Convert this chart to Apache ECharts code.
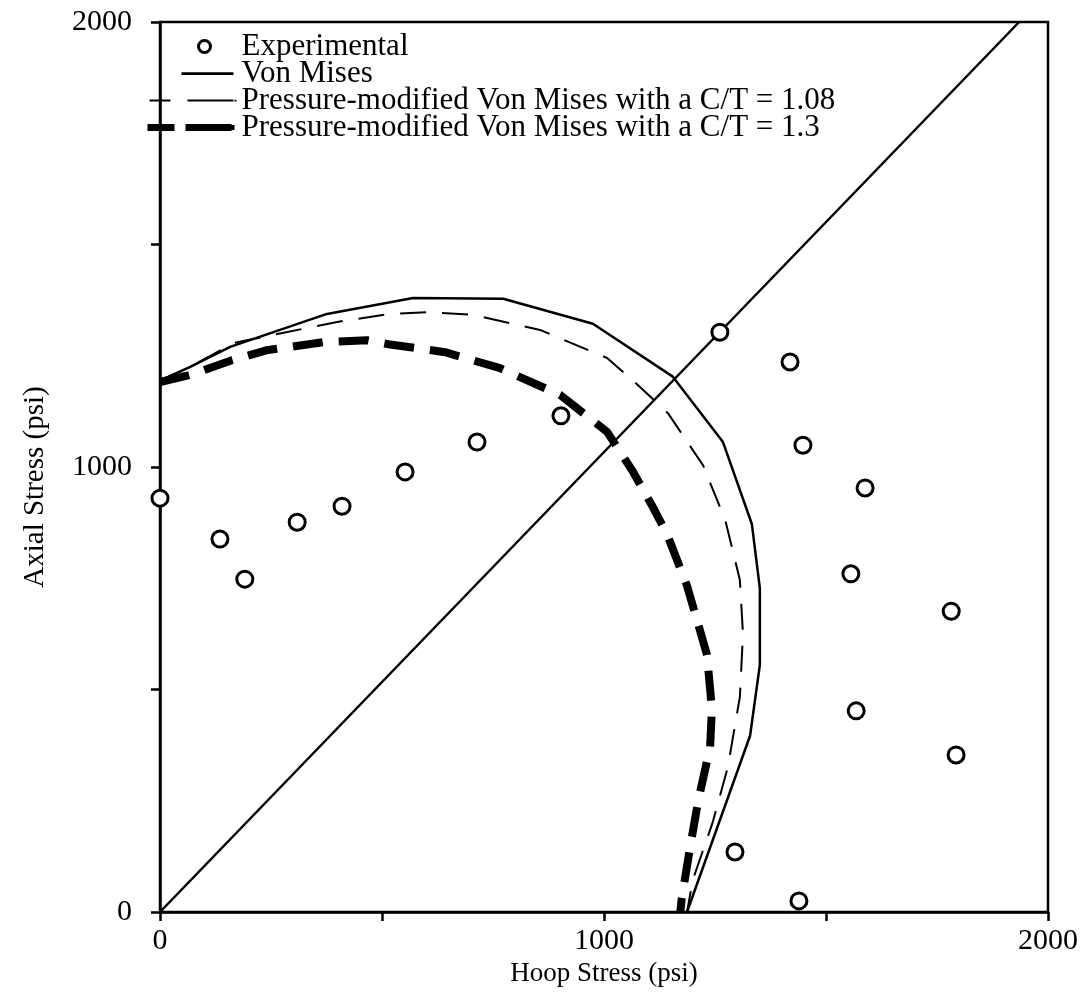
<!DOCTYPE html>
<html><head><meta charset="utf-8">
<script src="https://cdn.jsdelivr.net/npm/echarts@6/dist/echarts.min.js"></script>
<style>html,body{margin:0;padding:0;background:#fff}#c{width:1092px;height:1001px}</style>
</head><body><div id="c"></div>
<script>
var xTicks = [0, 1000, 2000];
var yTicks = [0, 1000, 2000];
var experimental = [[0,930],[135,838],[191,748],[309,876],[410,912],[552,989],[714,1056],[903,1115],[1261,1303],[1419,1236],[1448,1049],[1588,953],[1556,760],[1782,676],[1568,452],[1793,353],[1295,135],[1439,25]];
var vonMises = [[0,1194],[68,1225],[158,1270],[376,1344],[570,1380],[773,1378],[975,1322],[1155,1203],[1268,1056],[1333,872],[1351,728],[1351,555],[1329,396],[1187,0]];
var ct108 = [[0,1194],[68,1225],[167,1279],[270,1300],[399,1326],[518,1344],[601,1348],[705,1342],[856,1308],[1007,1245],[1081,1180],[1144,1121],[1223,1004],[1273,881],[1306,746],[1313,625],[1306,483],[1279,326],[1245,202],[1200,72],[1187,0]];
var ct13 = [[0,1191],[68,1207],[162,1240],[243,1263],[372,1281],[466,1285],[514,1276],[642,1258],[766,1222],[901,1162],[1007,1079],[1065,990],[1110,910],[1142,849],[1187,733],[1232,578],[1243,456],[1239,371],[1212,249],[1194,146],[1175,30],[1172,0]];
var diagonal = [[0,0],[1935,2000]];

var names = ['Experimental','Von Mises','Pressure-modified Von Mises with a C/T = 1.08','Pressure-modified Von Mises with a C/T = 1.3'];
var box = 'M0,0L0,0Z M90,14L90,14Z ';
var icons = [
  box + 'M52,7A6,6 0 1,0 64,7A6,6 0 1,0 52,7Z',
  box + 'M35,5.8H87V8.4H35Z',
  box + 'M3,6H24V8H3Z M41,6H87V8H41Z M88,6.3H90V8H88Z',
  box + 'M1,3.5H28V10.5H1Z M39,3.5H85V10.5H39Z M85,4.5H88V9.5H85Z'
];

var font = '"Liberation Serif", "DejaVu Serif", serif';
var chart = echarts.init(document.getElementById('c'));
chart.setOption({
  animation: false,
  backgroundColor: '#fff',
  grid: {left: 160, right: 44, top: 22, bottom: 89, show: true, borderColor: '#000', borderWidth: 2.5},
  legend: {
    orient: 'vertical', left: 140, top: 26, itemWidth: 90, itemHeight: 14, itemGap: -4,
    itemStyle: {borderWidth: 0, borderColor: 'rgba(0,0,0,0)'},
    data: names.map(function(n, i){
      return {name: n, icon: 'path://' + icons[i],
        itemStyle: i === 0 ? {color: '#fff', borderColor: '#000', borderWidth: 3}
                           : {color: '#000', borderColor: 'rgba(0,0,0,0)', borderWidth: 0}};
    }),
    textStyle: {fontFamily: font, fontSize: 31, color: '#000'}
  },
  xAxis: {
    type: 'value', min: 0, max: 2000, interval: 500,
    name: 'Hoop Stress (psi)', nameLocation: 'middle', nameGap: 47,
    nameTextStyle: {fontFamily: font, fontSize: 27, color: '#000'},
    axisLine: {lineStyle: {color: '#000', width: 2.5}},
    axisTick: {length: 9, lineStyle: {color: '#000', width: 2.5}},
    splitLine: {show: false},
    axisLabel: {fontFamily: font, fontSize: 30, color: '#000', margin: 14,
      formatter: function(v){ return xTicks.indexOf(v) >= 0 ? String(v) : ''; }}
  },
  yAxis: {
    type: 'value', min: 0, max: 2000, interval: 500,
    name: 'Axial Stress (psi)', nameLocation: 'middle', nameGap: 110, nameRotate: 90,
    nameTextStyle: {fontFamily: font, fontSize: 29, color: '#000', padding: [0, 40, 0, 0]},
    axisLine: {show: true, lineStyle: {color: '#000', width: 2.5}},
    axisTick: {show: true, length: 9, lineStyle: {color: '#000', width: 2.5}},
    splitLine: {show: false},
    axisLabel: {fontFamily: font, fontSize: 30, color: '#000', margin: 28,
      formatter: function(v){ return yTicks.indexOf(v) >= 0 ? String(v) : ''; }}
  },
  series: [
    {name: 'Diagonal', type: 'line', data: diagonal, symbol: 'none', silent: true,
     lineStyle: {color: '#000', width: 2.5}},
    {name: 'Von Mises', type: 'line', data: vonMises, symbol: 'none', itemStyle: {color: '#000'},
     lineStyle: {color: '#000', width: 2.5}},
    {name: names[2], type: 'line', data: ct108, symbol: 'none', itemStyle: {color: '#000'},
     lineStyle: {color: '#000', width: 2, type: [26, 16]}},
    {name: names[3], type: 'line', data: ct13, symbol: 'none', itemStyle: {color: '#000'},
     lineStyle: {color: '#000', width: 8, type: [30, 16]}},
    {name: 'Experimental', type: 'scatter', data: experimental, symbol: 'circle', symbolSize: 16,
     itemStyle: {color: '#fff', borderColor: '#000', borderWidth: 3, opacity: 1}, z: 5}
  ]
});
</script></body></html>
